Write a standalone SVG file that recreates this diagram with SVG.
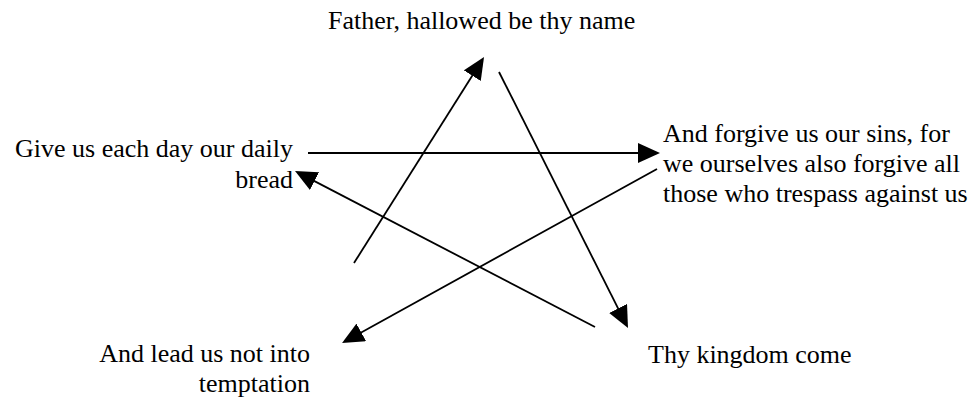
<svg xmlns="http://www.w3.org/2000/svg" width="975" height="398" viewBox="0 0 975 398">
  <style>
    .lbl { font-family: "Liberation Serif", "Times New Roman", serif; font-size: 26px; fill: #000; }
    .end { text-anchor: end; }
    .conn { stroke: #000; stroke-width: 1.8; fill: none; marker-end: url(#arrow); }
  </style>
  <defs>
    <marker id="arrow" markerUnits="userSpaceOnUse" markerWidth="22" markerHeight="20" refX="12" refY="10" orient="auto">
      <path d="M0,0 L22,10 L0,20 Z" fill="#000"/>
    </marker>
  </defs>
  <rect width="975" height="398" fill="#fff"/>
  <g id="connectors">
    <line class="conn" x1="354" y1="263" x2="478.7" y2="65.5"/>
    <line class="conn" x1="499" y1="72" x2="623.5" y2="319.1"/>
    <line class="conn" x1="308" y1="153" x2="650" y2="153" style="stroke-width:2.2"/>
    <line class="conn" x1="657" y1="169" x2="350.8" y2="338.2"/>
    <line class="conn" x1="595" y1="327" x2="303.9" y2="175.6"/>
  </g>
  <g id="node-father">
    <text class="lbl" x="328" y="29">Father, hallowed be thy name</text>
  </g>
  <g id="node-kingdom">
    <text class="lbl" x="648" y="363">Thy kingdom come</text>
  </g>
  <g id="node-bread">
    <text class="lbl end" x="293" y="157">Give us each day our daily</text>
    <text class="lbl end" x="293" y="188">bread</text>
  </g>
  <g id="node-forgive">
    <text class="lbl" x="663" y="142">And forgive us our sins, for</text>
    <text class="lbl" x="663" y="172">we ourselves also forgive all</text>
    <text class="lbl" x="663" y="202">those who trespass against us</text>
  </g>
  <g id="node-temptation">
    <text class="lbl end" x="310" y="362">And lead us not into</text>
    <text class="lbl end" x="310" y="392">temptation</text>
  </g>
</svg>
